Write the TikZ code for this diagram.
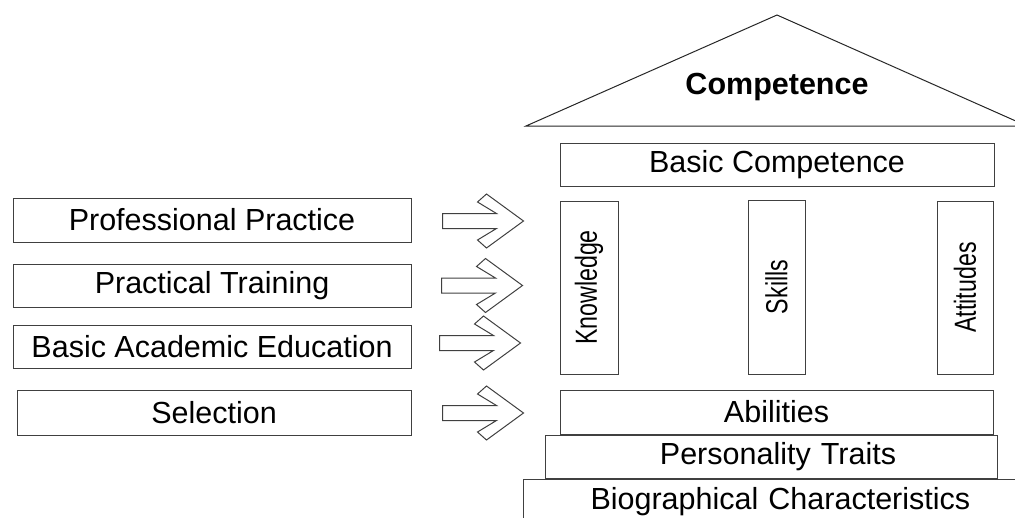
\documentclass[tikz,border=0pt]{standalone}
\usepackage{fontspec}
\usepackage{graphicx}
\setmainfont{Liberation Sans}
\newcommand\narrow[1]{\scalebox{0.76}[1]{#1}}
\tikzset{
  box/.style={draw=black!75, line width=1pt, minimum height=43pt, inner sep=0pt,
    font=\fontsize{30.5}{36}\selectfont},
  pillar/.style={box, rotate=90},
  fatarrow/.pic={
    \draw[line width=1pt, black!75] (-81,-7.5) -- (-27,-7.5) -- (-46,-19) -- (-37,-27) -- (0,0)
      -- (-37,27) -- (-46,19) -- (-27,7.5) -- (-81,7.5) -- cycle;
  }
}
\begin{document}
\begin{tikzpicture}[x=1pt, y=-1pt]
    \useasboundingbox (0,0) rectangle (1015,517);
    % left side: the inputs
    \node[box, minimum width=398pt, minimum height=44pt] (prof) at (212,220) {Professional Practice};
    \node[box, minimum width=398pt] (train) at (212,285.5) {Practical Training};
    \node[box, minimum width=398pt] (acad) at (212,346.5) {Basic Academic Education};
    \node[box, minimum width=394pt, minimum height=45pt] (sel) at (214,412.5) {Selection};
    \pic at ([xshift=112pt, yshift=-1pt]prof.east) {fatarrow};
    \pic at ([xshift=111pt]train.east) {fatarrow};
    \pic at ([xshift=109pt, yshift=3.5pt]acad.east) {fatarrow};
    \pic at ([xshift=112pt, yshift=-0.5pt]sel.east) {fatarrow};
    % the house
    \draw[line width=1pt, black!85] (526,126) -- (777,15) -- (1027,126) -- cycle;
    \node[font=\bfseries\fontsize{30.5}{36}\selectfont] (comp) at (777,87) {Competence};
    \node[box, minimum width=434pt] (basic) at (777,164.5) {Basic Competence};
    \node[pillar, minimum width=173pt, minimum height=58pt] (know) at (589,287.5) {\narrow{Knowledge}};
    \node[pillar, minimum width=174pt, minimum height=57pt] (skill) at (776.5,287) {\narrow{Skills}};
    \node[pillar, minimum width=173pt, minimum height=56pt] (att) at (965,287.5) {\narrow{Attitudes}};
    \node[box, minimum width=433pt, minimum height=44pt] (abil) at (776.5,412) {Abilities};
    \node[box, minimum width=452pt, text width=438pt, align=center, inner xsep=7pt] (pers) at (771,456.5) {\hspace*{14pt}Personality Traits};
    \node[box, anchor=north west, text width=470pt, align=left, inner xsep=67pt,
      minimum height=44pt] (bio) at (523,479) {Biographical Characteristics};
\end{tikzpicture}
\end{document}
